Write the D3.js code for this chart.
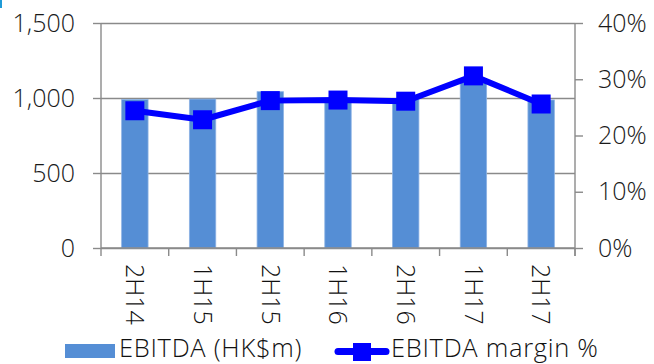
<!DOCTYPE html>
<html>
<head>
<meta charset="utf-8">
<script src="https://cdn.jsdelivr.net/npm/d3@7"></script>
<style>
  html, body { margin: 0; padding: 0; background: #fff; }
  svg { display: block; }
  .yl text, .yr text { font-family: "Open Sans", "Liberation Sans", sans-serif; font-weight: 300; font-size: 25px; fill: #1a1a1a; }
  .xl text { font-family: "Open Sans", "Noto Sans", sans-serif; font-weight: 300; font-size: 25px; fill: #111; }
  .legend text { font-family: "Open Sans", "Noto Sans", sans-serif; font-weight: 300; font-size: 25.5px; letter-spacing: 0.7px; fill: #111; }
</style>
</head>
<body>
<svg id="chart" width="654" height="364"></svg>
<script>
// Half-yearly periods
const periods = ["2H14", "1H15", "2H15", "1H16", "2H16", "1H17", "2H17"];
// EBITDA, HK$m
const ebitda = [990, 993, 1042, 995, 995, 1110, 987];
// EBITDA margin, %
const margin = [24.4, 22.8, 26.2, 26.3, 26.1, 30.6, 25.6];
// Axis ticks
const leftTicks = [0, 500, 1000, 1500];
const rightTicks = [0, 10, 20, 30, 40];
const seriesNames = ["EBITDA (HK$m)", "EBITDA margin %"];

const W = 654, H = 364;
const m = { top: 23, right: 79, bottom: 116, left: 101 };
const iw = W - m.left - m.right, ih = H - m.top - m.bottom;

const barColor = "#558ed5";
const lineColor = "#0000ff";
const axisColor = "#8a8a8a";

const svg = d3.select("#chart");

// small accent mark in the top-left corner
svg.append("rect").attr("x", 0).attr("y", 0).attr("width", 2).attr("height", 8).attr("fill", "#1f9bd7");

const g = svg.append("g").attr("transform", `translate(${m.left},${m.top})`);

const x = d3.scaleBand().domain(periods).range([0, iw]).paddingInner(0).paddingOuter(0);
const yL = d3.scaleLinear().domain([0, 1500]).range([ih, 0]);
const yR = d3.scaleLinear().domain([0, 40]).range([ih, 0]);

// gridlines
g.append("g")
  .call(d3.axisLeft(yL).tickValues(leftTicks).tickSize(-iw).tickFormat(""))
  .call(s => s.select(".domain").remove())
  .call(s => s.selectAll("line").attr("stroke", axisColor).attr("stroke-width", 1.4));

// bars
const bw = x.bandwidth() * 0.39;
g.append("g").selectAll("rect").data(periods).join("rect")
  .attr("x", (d) => x(d) + (x.bandwidth() - bw) / 2)
  .attr("width", bw)
  .attr("y", (d, i) => yL(ebitda[i]))
  .attr("height", (d, i) => ih - yL(ebitda[i]))
  .attr("fill", barColor)
  .attr("stroke", "#8db3e4")
  .attr("stroke-width", 0.8);

// left axis
g.append("g").attr("class", "yl")
  .call(d3.axisLeft(yL).tickValues(leftTicks).tickSize(8).tickPadding(18).tickFormat(d3.format(",")))
  .call(s => s.select(".domain").attr("stroke", axisColor).attr("stroke-width", 1.4).attr("d", `M0,${ih}V0`))
  .call(s => s.selectAll("line").attr("stroke", axisColor).attr("stroke-width", 1.4));

// right axis
g.append("g").attr("class", "yr").attr("transform", `translate(${iw},0)`)
  .call(d3.axisRight(yR).tickValues(rightTicks).tickSize(8).tickPadding(15).tickFormat(d => d + "%"))
  .call(s => s.select(".domain").attr("stroke", axisColor).attr("stroke-width", 1.4).attr("d", `M0,0V${ih + 8}`))
  .call(s => s.selectAll("line").attr("stroke", axisColor).attr("stroke-width", 1.4));

// bottom axis: baseline, boundary ticks, rotated labels
const xa = g.append("g").attr("class", "xl").attr("transform", `translate(0,${ih})`);
xa.append("line").attr("x1", 0).attr("x2", iw).attr("stroke", axisColor).attr("stroke-width", 1.4);
const bounds = periods.map(p => x(p)).concat([iw]);
xa.selectAll("line.tk").data(bounds).join("line").attr("class", "tk")
  .attr("x1", d => d).attr("x2", d => d).attr("y1", 0).attr("y2", 8)
  .attr("stroke", axisColor).attr("stroke-width", 1.4);
xa.selectAll("text").data(periods).join("text")
  .attr("transform", d => `translate(${x(d) + x.bandwidth() / 2},16) rotate(90)`)
  .attr("text-anchor", "start")
  .attr("dy", "0.35em")
  .text(d => d);

// margin line with square markers
const line = d3.line().x((d, i) => x(periods[i]) + x.bandwidth() / 2).y(d => yR(d));
g.append("path").datum(margin).attr("d", line)
  .attr("fill", "none").attr("stroke", lineColor).attr("stroke-width", 6).attr("stroke-linejoin", "round");
const ms = 19;
g.append("g").selectAll("rect").data(margin).join("rect")
  .attr("x", (d, i) => x(periods[i]) + x.bandwidth() / 2 - ms / 2)
  .attr("y", d => yR(d) - ms / 2)
  .attr("width", ms).attr("height", ms)
  .attr("fill", lineColor);

// legend
const lg = svg.append("g").attr("class", "legend");
lg.append("rect").attr("x", 65).attr("y", 344).attr("width", 50).attr("height", 14).attr("fill", barColor);
lg.append("text").attr("x", 119).attr("y", 356.5).text(seriesNames[0]);
lg.append("line").attr("x1", 338).attr("x2", 386).attr("y1", 351.5).attr("y2", 351.5)
  .attr("stroke", lineColor).attr("stroke-width", 7).attr("stroke-linecap", "round");
lg.append("rect").attr("x", 353).attr("y", 343).attr("width", 18).attr("height", 18).attr("fill", lineColor);
lg.append("text").attr("x", 391).attr("y", 356.5).text(seriesNames[1]);
</script>
</body>
</html>
